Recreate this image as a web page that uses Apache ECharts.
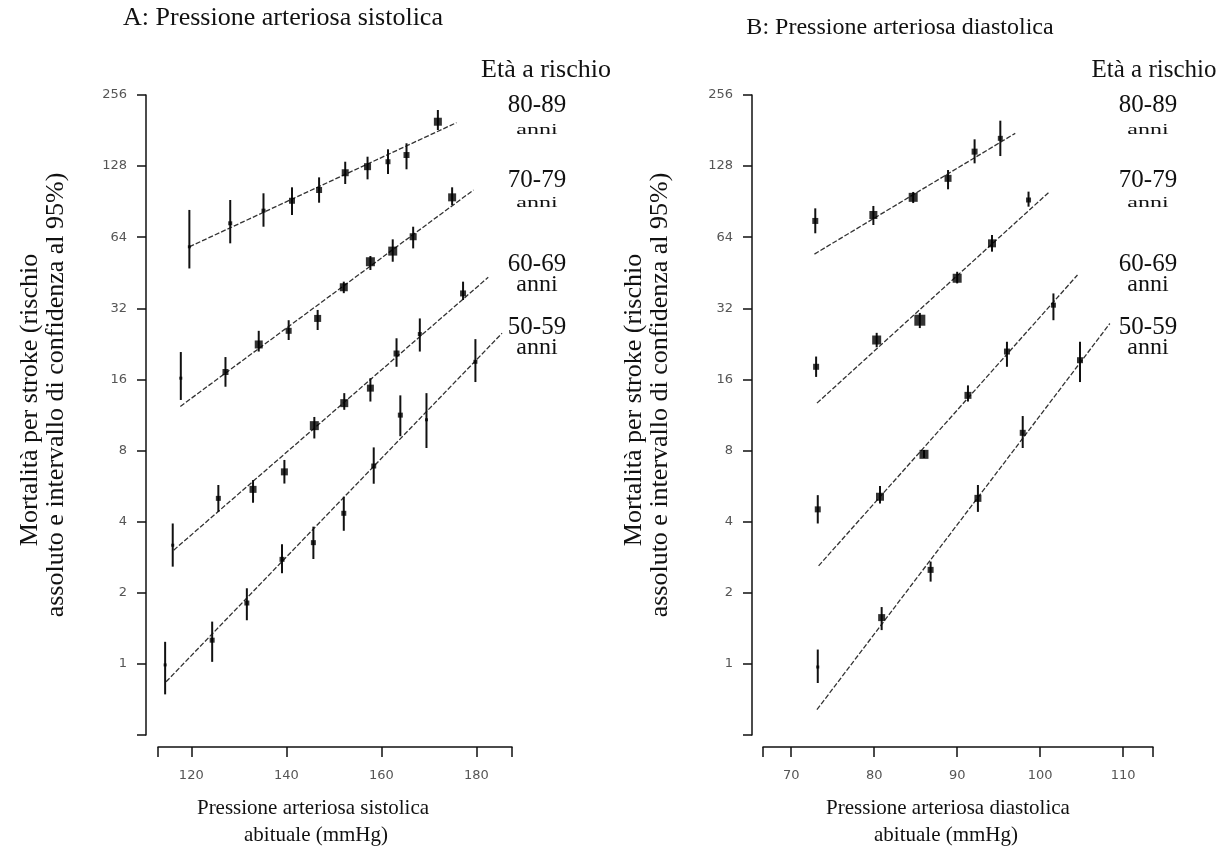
<!DOCTYPE html>
<html><head><meta charset="utf-8">
<script src="https://cdn.jsdelivr.net/npm/echarts@6/dist/echarts.min.js"></script>
<style>html,body{margin:0;padding:0;background:#fff}#c{width:1222px;height:867px}</style>
</head><body><div id="c"></div>
<script>
// ---------- DATA ----------
const ageGroups = ['80-89', '70-79', '60-69', '50-59'];
const yTickValues = [1, 2, 4, 8, 16, 32, 64, 128, 256];
const sbpTickLabels = [120, 140, 160, 180];
const dbpTickLabels = [70, 80, 90, 100, 110];

// A: systolic (mmHg) vs stroke mortality (rate), with 95% CI
const sbp80x  = [119.6, 128.2, 135.2, 141.2, 146.9, 152.4, 157.1, 161.4, 165.3, 171.9];
const sbp80y  = [58.3, 73.3, 82.9, 91.3, 101.4, 120.0, 127.3, 133.6, 142.6, 197.3];
const sbp80lo = [47.2, 60.3, 70.9, 79.5, 89.6, 107.5, 112.5, 118.5, 124.1, 182.0];
const sbp80hi = [83.5, 92.0, 98.2, 104.1, 114.7, 133.6, 140.3, 150.8, 159.9, 221.2];
const sbp80fitX = [119.6, 175.8], sbp80fitY = [58.3, 195.4];

const sbp70x  = [117.8, 127.2, 134.2, 140.5, 146.6, 152.1, 157.7, 162.4, 166.7, 174.9];
const sbp70y  = [16.2, 17.2, 22.5, 25.7, 29.0, 39.3, 50.4, 55.9, 64.3, 94.4];
const sbp70lo = [13.1, 14.9, 21.0, 23.5, 25.9, 37.1, 46.5, 50.4, 57.4, 87.6];
const sbp70hi = [20.9, 19.9, 25.7, 28.5, 31.5, 41.5, 53.3, 62.7, 70.9, 104.1];
const sbp70fitX = [117.7, 179.4], sbp70fitY = [12.3, 101.4];

const sbp60x  = [116.1, 125.7, 133.0, 139.6, 145.9, 152.2, 157.7, 163.2, 168.1, 177.2];
const sbp60y  = [3.18, 5.02, 5.48, 6.5, 10.2, 12.7, 14.7, 20.6, 24.9, 37.0];
const sbp60lo = [2.58, 4.40, 4.81, 5.8, 9.0, 11.9, 12.9, 18.1, 21.0, 34.7];
const sbp60hi = [3.93, 5.72, 6.0, 7.3, 11.1, 14.0, 16.2, 23.9, 29.0, 41.5];
const sbp60fitX = [116.3, 182.5], sbp60fitY = [3.03, 43.3];

const sbp50x  = [114.5, 124.4, 131.7, 139.1, 145.7, 152.1, 158.4, 164.0, 169.5, 179.8];
const sbp50y  = [0.99, 1.26, 1.81, 2.77, 3.26, 4.34, 6.88, 11.3, 10.8, 19.0];
const sbp50lo = [0.743, 1.02, 1.53, 2.42, 2.78, 3.66, 5.79, 9.2, 8.2, 15.6];
const sbp50hi = [1.24, 1.51, 2.09, 3.21, 3.81, 5.10, 8.25, 13.7, 14.0, 23.7];
const sbp50fitX = [114.7, 185.4], sbp50fitY = [0.84, 25.1];

// B: diastolic
const dbp80x  = [72.9, 79.9, 84.7, 88.9, 92.1, 95.2];
const dbp80y  = [75.0, 79.5, 94.4, 113.6, 147.4, 167.8];
const dbp80lo = [66.5, 72.1, 89.3, 102.1, 131.5, 141.2];
const dbp80hi = [84.8, 86.8, 99.5, 123.2, 166.2, 199.3];
const dbp80fitX = [72.8, 97.0], dbp80fitY = [54.3, 176.2];

const dbp70x  = [73.0, 80.3, 85.5, 90.0, 94.2, 98.6];
const dbp70y  = [18.1, 23.5, 28.5, 42.9, 60.3, 92.0];
const dbp70lo = [16.4, 21.9, 26.4, 40.8, 55.6, 86.2];
const dbp70hi = [20.0, 25.2, 30.6, 45.7, 65.4, 99.8];
const dbp70fitX = [73.1, 101.0], dbp70fitY = [12.7, 98.8];

const dbp60x  = [73.2, 80.7, 86.0, 91.3, 96.0, 101.6];
const dbp60y  = [4.51, 5.10, 7.71, 13.7, 21.0, 33.0];
const dbp60lo = [3.93, 4.78, 7.44, 12.9, 18.1, 28.5];
const dbp60hi = [5.18, 5.66, 8.04, 15.1, 23.1, 37.0];
const dbp60fitX = [73.3, 104.5], dbp60fitY = [2.60, 44.3];

const dbp50x  = [73.2, 80.9, 86.8, 92.5, 97.9, 104.8];
const dbp50y  = [0.97, 1.57, 2.50, 5.02, 9.51, 19.3];
const dbp50lo = [0.83, 1.39, 2.23, 4.40, 8.2, 15.6];
const dbp50hi = [1.15, 1.74, 2.71, 5.72, 11.2, 23.1];
const dbp50fitX = [73.1, 108.4], dbp50fitY = [0.64, 27.6];

// ---------- STYLE (marker sizes) ----------
const sizesA = [[3,4,4,6,6,7,7,5,6,8],[3,6,8,6,7,8,9,9,7,8],[3,5,7,7,9,8,7,6,4,6],[3,5,5,5,5,5,5,5,3,4]];
const sizesB = [[6,8,9,7,6,5],[6,9,11,9,8,5],[6,8,9,7,6,5],[3,7,6,7,6,6]];

const panelA = [
  [sbp80x, sbp80y, sbp80lo, sbp80hi, sbp80fitX, sbp80fitY],
  [sbp70x, sbp70y, sbp70lo, sbp70hi, sbp70fitX, sbp70fitY],
  [sbp60x, sbp60y, sbp60lo, sbp60hi, sbp60fitX, sbp60fitY],
  [sbp50x, sbp50y, sbp50lo, sbp50hi, sbp50fitX, sbp50fitY]
];
const panelB = [
  [dbp80x, dbp80y, dbp80lo, dbp80hi, dbp80fitX, dbp80fitY],
  [dbp70x, dbp70y, dbp70lo, dbp70hi, dbp70fitX, dbp70fitY],
  [dbp60x, dbp60y, dbp60lo, dbp60hi, dbp60fitX, dbp60fitY],
  [dbp50x, dbp50y, dbp50lo, dbp50hi, dbp50fitX, dbp50fitY]
];

const SERIF = "'Liberation Serif','DejaVu Serif',serif";
const SANS = "'DejaVu Sans',sans-serif";

function errRender(params, api) {
  const x = api.value(0);
  const p1 = api.coord([x, api.value(1)]);
  const p2 = api.coord([x, api.value(2)]);
  return {type: 'line', shape: {x1: p1[0], y1: p1[1], x2: p2[0], y2: p2[1]},
          style: {stroke: '#111', lineWidth: 2}};
}

const series = [];
function addPanel(panel, sizes, idx) {
  panel.forEach((g, gi) => {
    const [xs, ys, lo, hi, fx, fy] = g;
    series.push({
      type: 'line', xAxisIndex: idx, yAxisIndex: idx, name: ageGroups[gi] + ' fit',
      data: fx.map((v, i) => [v, fy[i]]), symbol: 'none', silent: true,
      lineStyle: {color: '#333', width: 1.3, type: [5, 2]}, z: 1
    });
    series.push({
      type: 'custom', xAxisIndex: idx, yAxisIndex: idx, name: ageGroups[gi] + ' CI',
      renderItem: errRender, encode: {x: 0, y: [1, 2]},
      data: xs.map((v, i) => [v, lo[i], hi[i]]), z: 2
    });
    series.push({
      type: 'scatter', xAxisIndex: idx, yAxisIndex: idx, name: ageGroups[gi],
      data: xs.map((v, i) => [v, ys[i]]), symbol: 'rect',
      symbolSize: (val, p) => sizes[gi][p.dataIndex],
      itemStyle: {color: '#000'}, z: 3
    });
  });
}
addPanel(panelA, sizesA, 0);
addPanel(panelB, sizesB, 1);

function xAxisCfg(min, max, labels) {
  return {
    type: 'value', min: min, max: max, offset: 12,
    axisLine: {show: true, onZero: false, lineStyle: {color: '#111', width: 1.5}},
    axisTick: {show: true, length: 10, customValues: [min].concat(labels.filter(v => v > min && v < max), [max]),
               lineStyle: {color: '#111', width: 1.5}},
    axisLabel: {customValues: labels, color: '#555', fontSize: 13, fontFamily: SANS, margin: 22},
    splitLine: {show: false}
  };
}
function yAxisCfg(gi) {
  return {
    type: 'log', logBase: 2, min: 0.5, max: 256, offset: 12, gridIndex: gi,
    axisLine: {show: true, onZero: false, lineStyle: {color: '#111', width: 1.5}},
    axisTick: {show: true, length: 9, lineStyle: {color: '#111', width: 1.5}},
    axisLabel: {color: '#555', fontSize: 13, fontFamily: SANS, margin: 19,
                formatter: v => (v < 1 ? '' : String(Math.round(v)))},
    splitLine: {show: false}
  };
}

const xA = xAxisCfg(113, 187.5, sbpTickLabels); xA.gridIndex = 0;
const xB = xAxisCfg(66.6, 113.6, dbpTickLabels); xB.gridIndex = 1; xB.offset = 12;
const yA = yAxisCfg(0);
const yB = yAxisCfg(1); yB.offset = 11;

function txt(x, y, text, size, sy) {
  return {type: 'text', x: x, y: y, scaleY: sy || 1,
    style: {text: text, font: size + 'px ' + SERIF, fill: '#111', textAlign: 'center', textVerticalAlign: 'middle'}};
}
function rot(x, y, text, size) {
  return {type: 'text', x: x, y: y, rotation: Math.PI / 2,
    style: {text: text, font: size + 'px ' + SERIF, fill: '#111', textAlign: 'center', textVerticalAlign: 'middle'}};
}

const labelYs = [[105, 130], [180, 203], [264, 285], [327, 348]];
const graphics = [
  txt(283, 18, 'A: Pressione arteriosa sistolica', 26),
  txt(900, 28, 'B: Pressione arteriosa diastolica', 24),
  txt(546, 70, 'Età a rischio', 26),
  txt(1154, 70, 'Età a rischio', 25),
  rot(30, 400, 'Mortalità per stroke (rischio', 26),
  rot(56, 395, 'assoluto e intervallo di confidenza al 95%)', 26),
  rot(634, 400, 'Mortalità per stroke (rischio', 26),
  rot(660, 395, 'assoluto e intervallo di confidenza al 95%)', 26),
  txt(313, 808, 'Pressione arteriosa sistolica', 21),
  txt(316, 835, 'abituale (mmHg)', 21),
  txt(948, 808, 'Pressione arteriosa diastolica', 21),
  txt(946, 835, 'abituale (mmHg)', 21)
];
ageGroups.forEach((g, i) => {
  const small = i < 2;
  graphics.push(txt(537, labelYs[i][0], g, 25));
  graphics.push(txt(537, labelYs[i][1], 'anni', 24, small ? 0.6 : 1));
  graphics.push(txt(1148, labelYs[i][0], g, 25));
  graphics.push(txt(1148, labelYs[i][1], 'anni', 24, small ? 0.6 : 1));
});

const chart = echarts.init(document.getElementById('c'), null, {renderer: 'canvas'});
chart.setOption({
  backgroundColor: '#fff',
  animation: false,
  grid: [
    {left: 158, top: 95, width: 354, height: 640},
    {left: 763, top: 95, width: 390, height: 640}
  ],
  xAxis: [xA, xB],
  yAxis: [yA, yB],
  series: series,
  graphic: graphics
});
</script></body></html>
